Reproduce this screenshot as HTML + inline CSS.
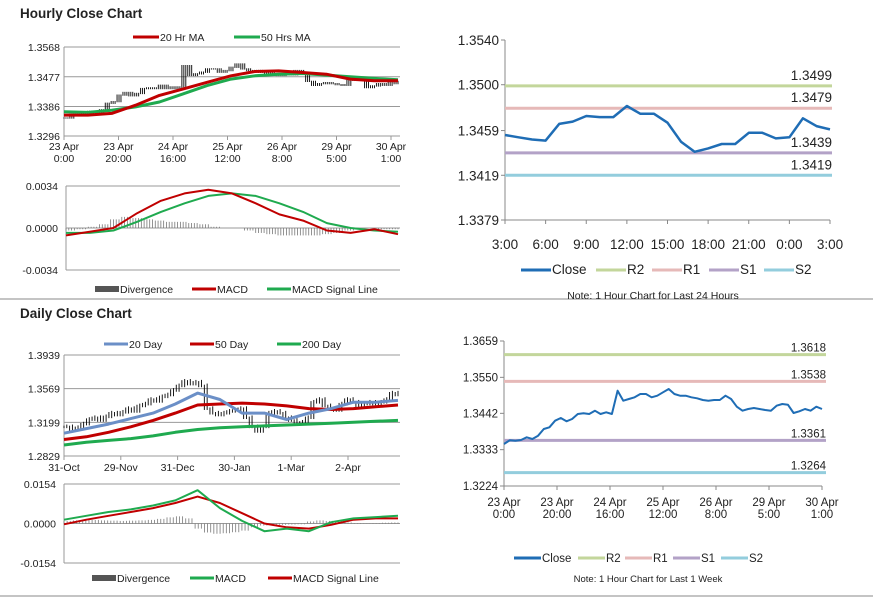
<!DOCTYPE html>
<html><head><meta charset="utf-8"><style>
body{margin:0;background:#fff;width:873px;height:601px;overflow:hidden;font-family:"Liberation Sans",sans-serif}
svg{position:absolute;left:0;top:0}
text{font-family:"Liberation Sans",sans-serif;fill:#222}
</style></head><body>
<svg id="s" width="873" height="601"></svg>
<script>
// ---- Hourly (last week) data ----
const weekClose=[1.3350,1.3361,1.3360,1.3362,1.3370,1.3365,1.3375,1.3395,1.3400,1.3420,1.3428,1.3418,1.3425,1.3440,1.3442,1.3440,1.3450,1.3440,1.3445,1.3440,1.3510,1.3480,1.3485,1.3490,1.3500,1.3500,1.3490,1.3495,1.3505,1.3515,1.3500,1.3495,1.3495,1.3490,1.3487,1.3482,1.3480,1.3482,1.3482,1.3495,1.3485,1.3462,1.3450,1.3455,1.3458,1.3455,1.3452,1.3450,1.3465,1.3470,1.3468,1.3443,1.3448,1.3455,1.3450,1.3462,1.3455];
const ma20h=[1.3360,1.3360,1.3365,1.3390,1.3420,1.3440,1.3460,1.3480,1.3493,1.3495,1.3490,1.3485,1.3470,1.3465,1.3465];
const ma50h=[1.3370,1.3368,1.3375,1.3385,1.3400,1.3425,1.3450,1.3470,1.3480,1.3485,1.3487,1.3482,1.3477,1.3472,1.3468];
const macdH=[-0.0006,-0.0003,0,0.0012,0.0022,0.0028,0.0031,0.0028,0.0020,0.0011,0.0006,-0.0002,-0.0004,-0.0001,-0.0005];
const sigH=[-0.0004,-0.0004,-0.0002,0.0005,0.0013,0.0020,0.0026,0.0028,0.0026,0.0020,0.0013,0.0004,0,-0.0002,-0.0003];
const divH=[-0.0002,-0.0001,0.0001,0.0003,0.0007,0.0009,0.0008,0.0007,0.0006,0.0005,0.0005,0.0004,0.0003,0.0001,0,0,-0.0002,-0.0004,-0.0005,-0.0006,-0.0006,-0.0006,-0.0006,-0.0005,-0.0004,-0.0002,0,0,-0.0001,-0.0001];
const hTicks=["23 Apr|0:00","23 Apr|20:00","24 Apr|16:00","25 Apr|12:00","26 Apr|8:00","29 Apr|5:00","30 Apr|1:00"];
const hYTicks=["1.3296","1.3386","1.3477","1.3568"];
// ---- 24h data ----
const dayClose=[1.3455,1.3453,1.3451,1.3450,1.3465,1.3467,1.3472,1.3471,1.3471,1.3481,1.3474,1.3474,1.3466,1.3449,1.3440,1.3443,1.3447,1.3447,1.3457,1.3457,1.3452,1.3453,1.3470,1.3463,1.3460];
const dTicks=["3:00","6:00","9:00","12:00","15:00","18:00","21:00","0:00","3:00"];
const dYTicks=["1.3379","1.3419","1.3459","1.3500","1.3540"];
const dLevels=[1.3499,1.3479,1.3439,1.3419];
const wLevels=[1.3618,1.3538,1.3361,1.3264];
const wYTicks=["1.3224","1.3333","1.3442","1.3550","1.3659"];
// ---- Daily data ----
const dailyClose=[1.3150,1.3120,1.3140,1.3180,1.3230,1.3250,1.3220,1.3260,1.3300,1.3280,1.3310,1.3350,1.3320,1.3380,1.3400,1.3450,1.3430,1.3480,1.3500,1.3550,1.3600,1.3650,1.3620,1.3640,1.3600,1.3350,1.3300,1.3280,1.3300,1.3320,1.3330,1.3350,1.3250,1.3150,1.3100,1.3150,1.3300,1.3320,1.3300,1.3250,1.3220,1.3200,1.3180,1.3250,1.3420,1.3450,1.3380,1.3350,1.3330,1.3400,1.3450,1.3420,1.3380,1.3400,1.3420,1.3400,1.3420,1.3450,1.3520,1.3500];
const ma20d=[1.3080,1.3130,1.3180,1.3240,1.3300,1.3400,1.3520,1.3450,1.3300,1.3300,1.3230,1.3300,1.3350,1.3420,1.3420,1.3440];
const ma50d=[1.3010,1.3040,1.3090,1.3150,1.3220,1.3300,1.3390,1.3400,1.3410,1.3400,1.3380,1.3350,1.3340,1.3350,1.3370,1.3390];
const ma200d=[1.2950,1.2980,1.3000,1.3020,1.3050,1.3090,1.3120,1.3140,1.3150,1.3160,1.3170,1.3180,1.3190,1.3200,1.3210,1.3220];
const macdD=[0.0015,0.0030,0.0045,0.0055,0.0070,0.0090,0.0130,0.0060,0.0010,-0.0030,-0.0020,-0.0030,0.0005,0.0020,0.0025,0.0030];
const sigD=[-0.0003,0.0015,0.0030,0.0045,0.0060,0.0080,0.0105,0.0080,0.0040,0,-0.0015,-0.0020,-0.0005,0.0015,0.0020,0.0020];
const divD=[0.0010,0.0012,0.0014,0.0014,0.0012,0.0011,0.0010,0.0011,0.0012,0.0014,0.0018,0.0024,0.0028,0.0020,-0.0020,-0.0035,-0.0040,-0.0038,-0.0034,-0.0028,-0.0015,-0.0008,-0.0006,-0.0005,-0.0004,-0.0003,0.0008,0.0012,0.0010,0.0007,0.0004,0.0002,0.0001,0.0002,0.0003,0.0004];
const dyTicks=["31-Oct","29-Nov","31-Dec","30-Jan","1-Mar","2-Apr"];
const dlYTicks=["1.2829","1.3199","1.3569","1.3939"];

const S=document.getElementById('s');const NS='http://www.w3.org/2000/svg';
function el(t,a){const e=document.createElementNS(NS,t);for(const k in a)e.setAttribute(k,a[k]);S.appendChild(e);return e;}
function txt(x,y,s,anchor,extra){const e=el('text',Object.assign({x:x,y:y,'text-anchor':anchor||'start','font-size':'10.5px'},extra||{}));e.textContent=s;return e;}
function lin(d0,d1,r0,r1){return v=>r0+(v-d0)/(d1-d0)*(r1-r0);}
function path(arr,xs,ys,color,w,name){const n=arr.length;let d='';arr.forEach((v,i)=>{d+=(i?'L':'M')+xs(i/(n-1)).toFixed(1)+','+ys(v).toFixed(1);});const p=el('path',{d:d,fill:'none',stroke:color,'stroke-width':w,'stroke-linejoin':'round'});

return p;}
function hline(x1,x2,y,c,w){return el('line',{x1:x1,x2:x2,y1:y,y2:y,stroke:c,'stroke-width':w||1});}
function vline(x,y1,y2,c,w){return el('line',{x1:x,x2:x,y1:y1,y2:y2,stroke:c,'stroke-width':w||1});}
function legend(items,y,fs){items.forEach(it=>{const l=hline(it[0],it[0]+it[3],y,it[2],it[4]||3);


const t=txt(it[0]+it[3]+1,y+4,it[1],'start',{'font-size':fs||'10.5px'});

});}

const RED='#c00000',GRN='#1faa4f',GRID='#999';
hline(0,873,299,'#888',1);hline(0,873,596,'#888',1);
let t1=txt(20,18,'Hourly Close Chart','start',{'font-size':'13.5px','font-weight':'bold',fill:'#000'});


let t2=txt(20,318,'Daily Close Chart','start',{'font-size':'13.5px','font-weight':'bold',fill:'#000'});



// ===== Top-left hourly price =====
(function(){const X0=64,X1=400,ys=lin(1.3296,1.3568,136,47),xs=lin(0,1,64,398);
hYTicks.forEach(v=>{const y=ys(+v);hline(X0,X1,y,GRID);txt(X0-4,y+4,v,'end');});
vline(X0,47,136,GRID);
hTicks.forEach((s,i)=>{const x=X0+i*54.5;vline(x,136,140,GRID);const p=s.split('|');txt(x,150,p[0],'middle');txt(x,162,p[1],'middle');});
const n=weekClose.length;weekClose.forEach((v,i)=>{for(let j=0;j<3;j++){const x=xs((i*3+j)/(n*3-1));const pv=i?weekClose[i-1]:v;const b=el('line',{x1:x,x2:x,y1:ys(Math.max(v,pv)+0.0003),y2:ys(Math.min(v,pv)-0.0001),stroke:'#000','stroke-width':0.9});

}});
path(ma50h,xs,ys,GRN,3,'ma50-line');path(ma20h,xs,ys,RED,3,'ma20-line');
legend([[133,'20 Hr MA',RED,26],[234,'50 Hrs MA',GRN,26]],37);
const my=lin(-0.0034,0.0034,270,186),mx=lin(0,1,66,398);
[["-0.0034",-0.0034],["0.0000",0],["0.0034",0.0034]].forEach(a=>{hline(66,400,my(a[1]),GRID);txt(58,my(a[1])+4,a[0],'end');});
vline(66,186,270,GRID);
const dn=divH.length;for(let k=0;k<dn;k++){for(let j=0;j<4;j++){const x=mx((k*4+j)/(dn*4-1));const b=vline(x,my(0),my(divH[k]),'#777',0.8);

}}
path(sigH,mx,my,GRN,2,'macd-signal-line');path(macdH,mx,my,RED,2,'macd-line');
legend([[95,'Divergence','#555',24,6],[192,'MACD',RED,24],[267,'MACD Signal Line',GRN,24]],289);
})();

// ===== Top-right 24h chart =====
(function(){const X0=505,X1=830,ys=lin(1.3379,1.3540,220,40),xs=lin(0,1,X0,X1);
vline(X0,40,220,'#888');hline(X0,X1,220,'#888');
dYTicks.forEach(v=>{const y=ys(+v);hline(X0-4,X0,y,'#888');txt(X0-6,y+5,v,'end',{'font-size':'13.5px'});});
dTicks.forEach((s,i)=>{const x=X0+i*(X1-X0)/8;vline(x,220,224,'#888');txt(x,249,s,'middle',{'font-size':'13.5px'});});
const cols=['#c3d69b','#e6b9b8','#b3a2c7','#93cddd'],names=['r2','r1','s1','s2'];
dLevels.forEach((v,i)=>{const l=hline(X0,X1+2,ys(v),cols[i],3);


txt(X1+2,ys(v)-6,v.toFixed(4),'end',{'font-size':'13.5px'});});
path(dayClose,xs,ys,'#1f6db5',2.5,'close-line-24h');
legend([[521,'Close','#1f6db5',30],[596,'R2',cols[0],30],[652,'R1',cols[1],30],[709,'S1',cols[2],30],[764,'S2',cols[3],30]],270,'13.5px');
const n=txt(653,299,'Note: 1 Hour Chart for Last 24 Hours','middle',{'font-size':'10.5px'});


})();

// ===== Bottom-left daily =====
(function(){const X0=64,X1=400,ys=lin(1.2829,1.3939,456,355),xs=lin(0,1,64,398);
dlYTicks.forEach(v=>{const y=ys(+v);hline(X0,X1,y,GRID);txt(X0-4,y+4,v,'end');});
vline(X0,355,456,GRID);
dyTicks.forEach((s,i)=>{const x=X0+i*56.8;vline(x,456,460,GRID);txt(x,471,s,'middle');});
const n=dailyClose.length;dailyClose.forEach((v,i)=>{for(let j=0;j<2;j++){const x=xs((i*2+j)/(n*2-1));const pv=i?dailyClose[i-1]:v;const b=el('line',{x1:x,x2:x,y1:ys(Math.max(v,pv)+0.0025*(j?1:0.5)),y2:ys(Math.min(v,pv)-0.0015),stroke:'#000','stroke-width':0.9});

}});
path(ma200d,xs,ys,GRN,3,'ma200-line');path(ma50d,xs,ys,RED,3,'ma50-day-line');path(ma20d,xs,ys,'#6b8fc7',3,'ma20-day-line');
legend([[104,'20 Day','#6b8fc7',24],[190,'50 Day',RED,24],[277,'200 Day',GRN,24]],344);
const my=lin(-0.0154,0.0154,563,484),mx=lin(0,1,64,398);
[["-0.0154",-0.0154],["0.0000",0],["0.0154",0.0154]].forEach(a=>{hline(64,400,my(a[1]),GRID);txt(56,my(a[1])+4,a[0],'end');});
vline(64,484,563,GRID);
const dn=divD.length;for(let k=0;k<dn;k++){for(let j=0;j<3;j++){const x=mx((k*3+j)/(dn*3-1));const b=vline(x,my(0),my(divD[k]),'#777',0.8);

}}
path(sigD,mx,my,RED,2,'daily-signal-line');path(macdD,mx,my,GRN,2,'daily-macd-line');
legend([[92,'Divergence','#555',24,6],[190,'MACD',GRN,24],[268,'MACD Signal Line',RED,24]],578);
})();

// ===== Bottom-right week =====
(function(){const X0=504,X1=822,ys=lin(1.3224,1.3659,486,341),xs=lin(0,1,X0,X1);
vline(X0,341,486,'#888');hline(X0,X1,486,'#888');
wYTicks.forEach(v=>{const y=ys(+v);hline(X0-4,X0,y,'#888');txt(X0-6,y+4,v,'end',{'font-size':'11.5px'});});
hTicks.forEach((s,i)=>{const x=X0+i*53;vline(x,486,490,'#888');const p=s.split('|');txt(x,506,p[0],'middle',{'font-size':'11.5px'});txt(x,518,p[1],'middle',{'font-size':'11.5px'});});
const cols=['#c3d69b','#e6b9b8','#b3a2c7','#93cddd'],names=['r2','r1','s1','s2'];
wLevels.forEach((v,i)=>{const l=hline(X0,X1+4,ys(v),cols[i],3);


txt(X1+4,ys(v)-3,v.toFixed(4),'end',{'font-size':'11.5px'});});
path(weekClose,xs,ys,'#1f6db5',2,'close-line-week');
legend([[514,'Close','#1f6db5',27],[578,'R2',cols[0],27],[625,'R1',cols[1],27],[673,'S1',cols[2],27],[721,'S2',cols[3],27]],558,'11.5px');
const n=txt(648,582,'Note: 1 Hour Chart for  Last 1 Week','middle',{'font-size':'9.5px'});


})();
</script>
</body></html>
